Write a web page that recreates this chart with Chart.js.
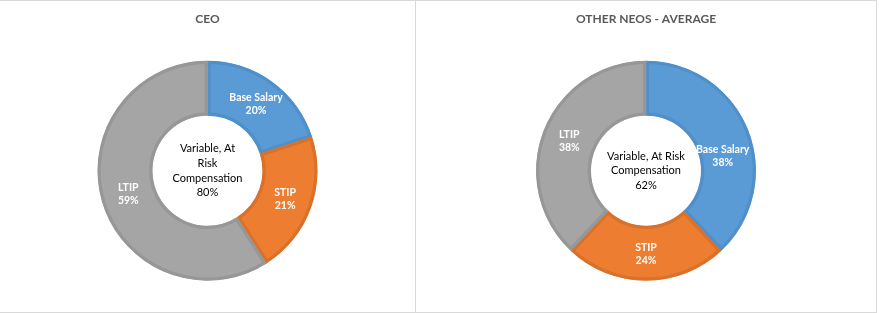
<!doctype html>
<html lang="en">
<head>
  <meta charset="utf-8">
  <title>pay mix</title>
  <style>
    body { margin: 0; background: #fff; }
    .panel {
      position: absolute;
      top: 0;
      height: 311px;
      border-top: 1px solid #d9d9d9;
      border-bottom: 1px solid #d9d9d9;
      border-right: 1px solid #d9d9d9;
    }
    #left { left: 0; width: 415px; }
    #right { left: 416px; width: 460px; }
    canvas { display: block; }
  </style>
</head>
<body>
  <div class="panel" id="left"><canvas id="ceo"></canvas></div>
  <div class="panel" id="right"><canvas id="neo"></canvas></div>

  <script src="https://cdn.jsdelivr.net/npm/chart.js@4/dist/chart.umd.min.js"></script>
  <script>
  const labels = ['Base Salary', 'STIP', 'LTIP'];
  const ceoValues = [20, 21, 59];
  const neoValues = [38, 24, 38];
  const centerLinesCeo = ['Variable, At', 'Risk', 'Compensation'];
  const centerLinesNeo = ['Variable, At Risk', 'Compensation'];

  const fills = ['#5b9bd5', '#ed7d31', '#a5a5a5'];
  const edges = ['#4f8fca', '#da712a', '#979797'];
  const font = 'Lato, "Liberation Sans", sans-serif';

  const donutText = {
    id: 'donutText',
    afterDatasetsDraw(chart, args, opts) {
      const ctx = chart.ctx;
      const meta = chart.getDatasetMeta(0);
      const data = chart.data.datasets[0].data;
      ctx.save();
      ctx.textAlign = 'center';
      ctx.textBaseline = 'middle';
      ctx.fillStyle = '#fff';
      ctx.font = 'bold 10.5px ' + font;
      meta.data.forEach((arc, i) => {
        const p = arc.tooltipPosition();
        const dy = (opts.nudge && opts.nudge[i]) || 0;
        ctx.fillText(chart.data.labels[i], p.x, p.y - 6 + dy);
        ctx.fillText(data[i] + '%', p.x, p.y + 7 + dy);
      });
      // centre text
      const cx = meta.data[0].x, cy = meta.data[0].y;
      const variable = data[1] + data[2];
      const lines = opts.lines.concat([variable + '%']);
      ctx.fillStyle = '#000';
      ctx.font = '11px ' + font;
      const lh = 14.6;
      const top = cy - (lines.length - 1) * lh / 2;
      lines.forEach((t, k) => ctx.fillText(t, cx, top + k * lh));
      ctx.restore();
    }
  };

  function makeDonut(id, title, values, lines, nudge) {
    new Chart(document.getElementById(id), {
      type: 'doughnut',
      data: {
        labels: labels,
        datasets: [{
          data: values,
          backgroundColor: fills,
          borderColor: edges,
          borderWidth: 3,
          borderAlign: 'inner'
        }]
      },
      options: {
        responsive: true,
        maintainAspectRatio: false,
        animation: false,
        radius: 110,
        cutout: '50%',
        layout: { padding: { bottom: 8 } },
        plugins: {
          legend: { display: false },
          tooltip: { enabled: false },
          title: {
            display: true,
            text: title,
            color: '#595959',
            font: { family: font, size: 12, weight: 'bold' },
            padding: { top: 11, bottom: 11 }
          },
          donutText: { lines: lines, nudge: nudge }
        }
      },
      plugins: [donutText]
    });
  }

  makeDonut('ceo', 'CEO', ceoValues, centerLinesCeo, [0, 0, 0]);
  makeDonut('neo', 'OTHER NEOS - AVERAGE', neoValues, centerLinesNeo, [15, 0, 0]);
  </script>
</body>
</html>
